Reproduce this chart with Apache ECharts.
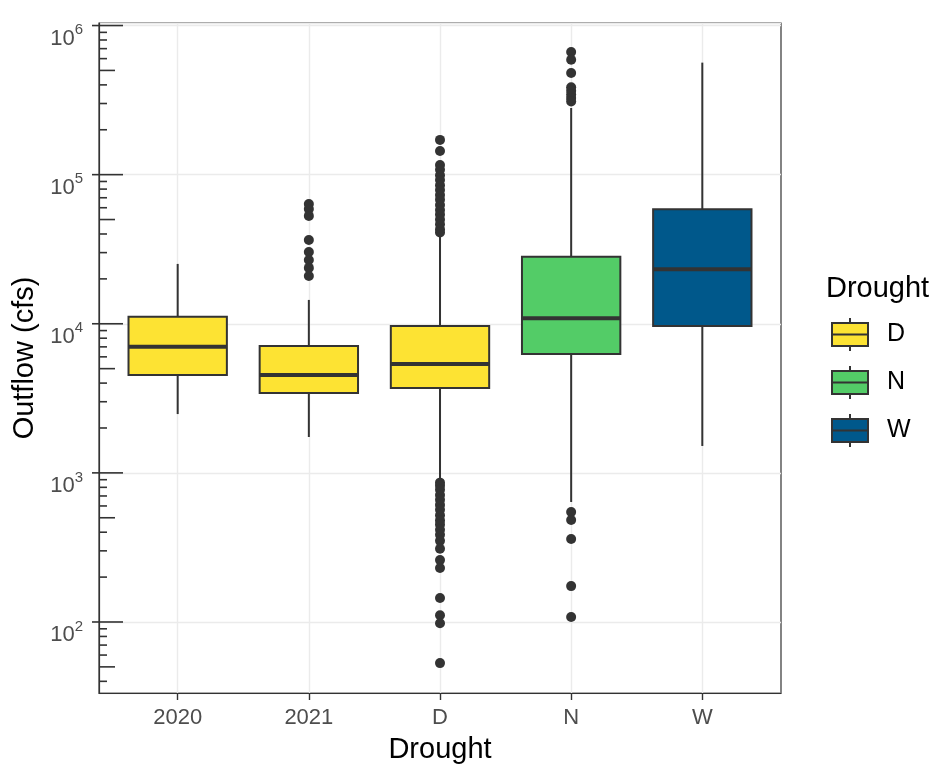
<!DOCTYPE html>
<html>
<head>
<meta charset="utf-8">
<script src="https://cdn.jsdelivr.net/npm/echarts@6/dist/echarts.min.js"></script>
<style>
html, body { margin: 0; padding: 0; background: #fff; }
#chart { width: 933px; height: 764px; }
</style>
</head>
<body>
<div id="chart"></div>
<script>
const categories = ['2020', '2021', 'D', 'N', 'W']
const categoryGroup = ['D', 'D', 'D', 'N', 'W']
const groupNames = ['D', 'N', 'W']
const groupColors = ['#FDE333', '#53CC67', '#00588B']

// [lower whisker, Q1, median, Q3, upper whisker]
const boxStats = [
  [2480, 4540, 7020, 11160, 25200],
  [1740, 3435, 4540, 7100, 14450],
  [896, 3710, 5380, 9670, 38800],
  [638, 6270, 10900, 28100, 280000],
  [1515, 9670, 23200, 58600, 564000]
]

const outliers2021 = [63500, 58900, 52900, 36500, 30300, 26800, 23700, 20900]
const outliersD = [171000, 144000, 116000, 108000, 99000, 92000, 85000, 79000, 73000,
  68000, 62500, 58000, 54000, 50000, 46500, 43000, 41000,
  860, 820, 770, 710, 660, 610, 565, 520, 480, 450, 415, 385, 350, 310, 260, 230,
  145, 111, 98, 53]
const outliersN = [665000, 590000, 481000, 385000, 365000, 345000, 327000, 310000,
  547, 483, 360, 174, 108]

const majorTicks = [100, 1000, 10000, 100000, 1000000]
const midTicks = [50, 500, 5000, 50000, 500000]
const minorTicks = [40, 60, 70, 80, 90,
  200, 300, 400, 600, 700, 800, 900,
  2000, 3000, 4000, 6000, 7000, 8000, 9000,
  20000, 30000, 40000, 60000, 70000, 80000, 90000,
  200000, 300000, 400000, 600000, 700000, 800000, 900000]

const FONT = "'Liberation Sans', Arial, sans-serif"
const INK = '#333333'

function renderBox(params, api) {
  const x = api.value(0)
  const top = api.coord([x, api.value(5)])
  const q3 = api.coord([x, api.value(4)])
  const med = api.coord([x, api.value(3)])
  const q1 = api.coord([x, api.value(2)])
  const bottom = api.coord([x, api.value(1)])
  const left = api.coord([x - 0.375, api.value(3)])[0]
  const right = api.coord([x + 0.375, api.value(3)])[0]
  const line = { stroke: INK, lineWidth: 2 }
  return {
    type: 'group',
    children: [
      { type: 'line', shape: { x1: top[0], y1: top[1], x2: q3[0], y2: q3[1] }, style: line },
      { type: 'line', shape: { x1: q1[0], y1: q1[1], x2: bottom[0], y2: bottom[1] }, style: line },
      {
        type: 'rect',
        shape: { x: left, y: q3[1], width: right - left, height: q1[1] - q3[1] },
        style: { fill: api.visual('color'), stroke: INK, lineWidth: 2 }
      },
      { type: 'line', shape: { x1: left, y1: med[1], x2: right, y2: med[1] }, style: { stroke: INK, lineWidth: 4 } }
    ]
  }
}

function tickRenderer(inner, outer) {
  return function (params, api) {
    const y = api.coord([1, api.value(1)])[1]
    const x0 = params.coordSys.x
    return {
      type: 'line',
      shape: { x1: x0 - outer, y1: y, x2: x0 + inner, y2: y },
      style: { stroke: INK, lineWidth: 1.6 }
    }
  }
}

const boxSeries = groupNames.map((g, gi) => ({
  name: g,
  type: 'custom',
  renderItem: renderBox,
  itemStyle: { color: groupColors[gi] },
  encode: { x: 0, y: [1, 2, 3, 4, 5] },
  data: categories
    .map((c, i) => ({ c, i }))
    .filter(o => categoryGroup[o.i] === g)
    .map(o => [o.i + 1].concat(boxStats[o.i])),
  z: 2
}))

const outlierData = []
  .concat(outliers2021.map(v => [2, v]))
  .concat(outliersD.map(v => [3, v]))
  .concat(outliersN.map(v => [4, v]))

const chart = echarts.init(document.getElementById('chart'))
chart.setOption({
  backgroundColor: '#ffffff',
  animation: false,
  textStyle: { fontFamily: FONT },
  title: {
    text: 'Drought',
    left: 826,
    top: 274,
    padding: 0,
    textStyle: { fontFamily: FONT, fontSize: 29, fontWeight: 'normal', color: '#000' }
  },
  legend: {
    orient: 'vertical',
    left: 831,
    top: 317,
    padding: 0,
    itemWidth: 36,
    itemHeight: 33,
    itemGap: 13,
    icon: 'path://M0,5 L0,28 L36,28 L36,5 Z M0,16.5 L36,16.5 M18,0 L18,5 M18,28 L18,33',
    itemStyle: { borderColor: INK, borderWidth: 2 },
    textStyle: { fontFamily: FONT, fontSize: 25, color: '#000', padding: [2, 0, 0, 14] },
    data: groupNames
  },
  grid: {
    left: 99,
    right: 152,
    top: 23,
    bottom: 71,
    outerBoundsMode: 'none',
    containLabel: false,
    show: true,
    backgroundColor: '#ffffff',
    borderColor: INK,
    borderWidth: 1.2
  },
  xAxis: {
    type: 'value',
    min: 0.4,
    max: 5.6,
    name: 'Drought',
    nameLocation: 'middle',
    nameGap: 42,
    nameTextStyle: { fontFamily: FONT, fontSize: 29, color: '#000' },
    axisLine: { show: true, lineStyle: { color: INK, width: 1.2 } },
    axisTick: { show: true, length: 7, customValues: [1, 2, 3, 4, 5], lineStyle: { color: INK, width: 1.4 } },
    axisLabel: {
      customValues: [1, 2, 3, 4, 5],
      formatter: v => categories[Math.round(v) - 1],
      fontFamily: FONT,
      fontSize: 22,
      color: '#4D4D4D',
      margin: 14
    },
    splitLine: { show: true, lineStyle: { color: '#EBEBEB', width: 1.4 } }
  },
  yAxis: {
    type: 'log',
    logBase: 10,
    min: 33.4,
    max: 1040000,
    name: 'Outflow (cfs)',
    nameLocation: 'middle',
    nameGap: 50,
    nameRotate: 90,
    nameTextStyle: { fontFamily: FONT, fontSize: 29, color: '#000' },
    axisLine: { show: true, lineStyle: { color: INK, width: 1.2 } },
    axisTick: { show: false },
    axisLabel: {
      showMinLabel: false,
      showMaxLabel: false,
      margin: 16,
      formatter: v => '{b|10}{s|' + Math.round(Math.log10(v)) + '}',
      rich: {
        b: { fontFamily: FONT, fontSize: 22, color: '#4D4D4D', lineHeight: 24, verticalAlign: 'top', padding: [14, 0, 0, 0] },
        s: { fontFamily: FONT, fontSize: 15, color: '#4D4D4D', lineHeight: 15, verticalAlign: 'top', padding: [9, 0, 0, 0] }
      }
    },
    splitLine: { show: true, lineStyle: { color: '#EBEBEB', width: 1.4 } }
  },
  series: [
    ...boxSeries,
    {
      type: 'scatter',
      data: outlierData,
      symbol: 'circle',
      symbolSize: 10,
      itemStyle: { color: INK, opacity: 1 },
      silent: true,
      z: 3
    },
    {
      type: 'custom',
      renderItem: tickRenderer(24, 7),
      data: majorTicks.map(v => [1, v]),
      silent: true,
      z: 4
    },
    {
      type: 'custom',
      renderItem: tickRenderer(16, 0),
      data: midTicks.map(v => [1, v]),
      silent: true,
      z: 4
    },
    {
      type: 'custom',
      renderItem: tickRenderer(8, 0),
      data: minorTicks.map(v => [1, v]),
      silent: true,
      z: 4
    }
  ]
})
</script>
</body>
</html>
